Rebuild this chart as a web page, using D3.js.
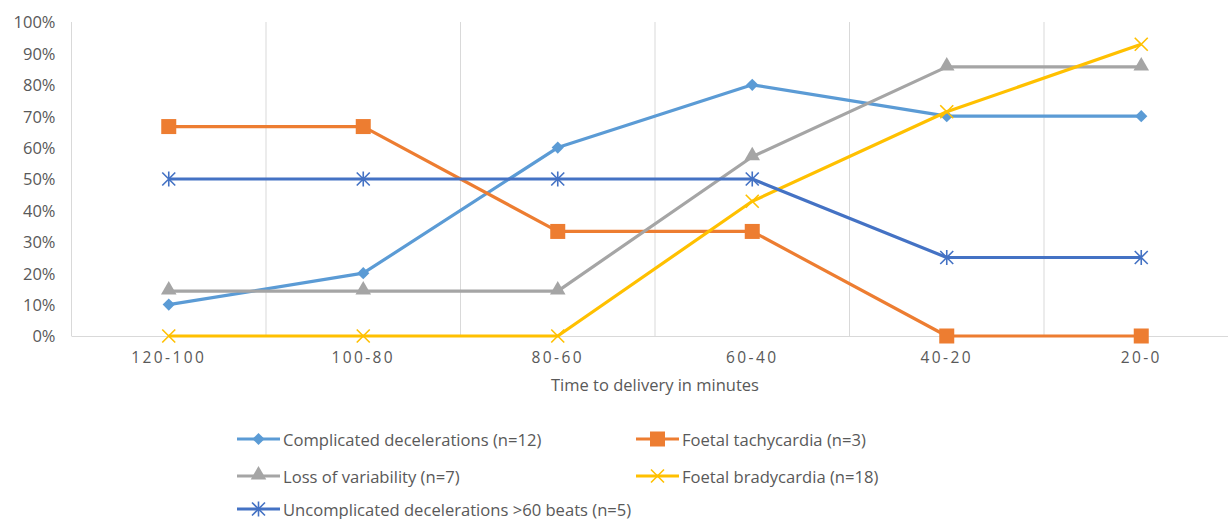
<!DOCTYPE html>
<html>
<head>
<meta charset="utf-8">
<script src="https://cdn.jsdelivr.net/npm/d3@7"></script>
<style>
  html, body { margin: 0; padding: 0; background: #fff; }
  svg { display: block; }
  text { font-family: "Open Sans", "Liberation Sans", sans-serif; fill: #595959; }
</style>
</head>
<body>
<svg id="chart" width="1228" height="519"></svg>
<script>
// Time windows before delivery (minutes)
const categories = ["120-100", "100-80", "80-60", "60-40", "40-20", "20-0"];

// Share of cases (%) showing each CTG feature per window
const complicatedDecels   = [10, 20, 60, 80, 70, 70];
const foetalTachycardia   = [66.7, 66.7, 33.3, 33.3, 0, 0];
const lossOfVariability   = [14.3, 14.3, 14.3, 57.1, 85.7, 85.7];
const foetalBradycardia   = [0, 0, 0, 42.9, 71.4, 92.9];
const uncomplicatedDecels = [50, 50, 50, 50, 25, 25];

const yTicks = [0, 10, 20, 30, 40, 50, 60, 70, 80, 90, 100];

const series = [
  { name: "Complicated decelerations (n=12)", values: complicatedDecels, color: "#5B9BD5", marker: "diamond" },
  { name: "Foetal tachycardia (n=3)", values: foetalTachycardia, color: "#ED7D31", marker: "square" },
  { name: "Loss of variability (n=7)", values: lossOfVariability, color: "#A5A5A5", marker: "triangle" },
  { name: "Foetal bradycardia (n=18)", values: foetalBradycardia, color: "#FFC000", marker: "x" },
  { name: "Uncomplicated decelerations >60 beats (n=5)", values: uncomplicatedDecels, color: "#4472C4", marker: "star" }
];

const svg = d3.select("#chart");
const plot = { left: 71.5, right: 1238.5, top: 22, bottom: 336 };

const x = d3.scaleBand().domain(categories).range([plot.left, plot.right]);
const y = d3.scaleLinear().domain([0, 100]).range([plot.bottom, plot.top]);

// vertical gridlines at category boundaries
svg.append("g")
  .selectAll("line")
  .data(categories.slice(1))
  .join("line")
  .attr("x1", d => x(d)).attr("x2", d => x(d))
  .attr("y1", plot.top).attr("y2", plot.bottom)
  .attr("stroke", "#D9D9D9").attr("stroke-width", 1);

svg.append("line")
  .attr("x1", plot.left).attr("x2", plot.left)
  .attr("y1", plot.top).attr("y2", plot.bottom)
  .attr("stroke", "#D9D9D9");

// horizontal category axis
svg.append("line")
  .attr("x1", plot.left).attr("x2", plot.right)
  .attr("y1", plot.bottom + 0.5).attr("y2", plot.bottom + 0.5)
  .attr("stroke", "#D9D9D9").attr("stroke-width", 1.2);

// y axis labels
const yAxis = d3.axisLeft(y).tickValues(yTicks).tickFormat(d => d + "%").tickSize(0).tickPadding(0);
const gy = svg.append("g").attr("transform", `translate(${plot.left - 16},0)`).call(yAxis);
gy.select(".domain").remove();
gy.selectAll("text")
  .attr("font-size", 16.5)
  .attr("font-family", '"Open Sans", sans-serif')
  .attr("fill", "#595959")
  .attr("dy", "0.36em");

// x axis labels
const xAxis = d3.axisBottom(x).tickSize(0).tickPadding(0);
const gx = svg.append("g").attr("transform", `translate(0,${plot.bottom + 21})`).call(xAxis);
gx.select(".domain").remove();
gx.selectAll("text")
  .attr("font-size", 15.5)
  .attr("letter-spacing", "2.4px")
  .attr("font-family", '"Open Sans", sans-serif')
  .attr("fill", "#595959")
  .attr("dy", "0.36em");

svg.append("text")
  .attr("x", 655).attr("y", 384)
  .attr("text-anchor", "middle").attr("dominant-baseline", "central")
  .attr("font-size", 16.5)
  .text("Time to delivery in minutes");

// marker shapes
function drawMarker(g, type, color, cx, cy) {
  if (type === "diamond") {
    g.append("path").attr("d", d3.symbol(d3.symbolDiamond2, 95)())
      .attr("transform", `translate(${cx},${cy})`).attr("fill", color);
  } else if (type === "square") {
    g.append("rect").attr("x", cx - 7.5).attr("y", cy - 7.5).attr("width", 15).attr("height", 15).attr("fill", color);
  } else if (type === "triangle") {
    g.append("path").attr("d", d3.symbol(d3.symbolTriangle, 105)())
      .attr("transform", `translate(${cx},${cy - 1})`).attr("fill", color);
  } else if (type === "x") {
    const s = 6.5;
    g.append("path").attr("d", `M${cx - s},${cy - s}L${cx + s},${cy + s}M${cx - s},${cy + s}L${cx + s},${cy - s}`)
      .attr("stroke", color).attr("stroke-width", 1.6).attr("fill", "none");
  } else if (type === "star") {
    const s = 6.5;
    g.append("path").attr("d", `M${cx - s},${cy - s}L${cx + s},${cy + s}M${cx - s},${cy + s}L${cx + s},${cy - s}M${cx},${cy - s - 1}L${cx},${cy + s + 1}`)
      .attr("stroke", color).attr("stroke-width", 1.6).attr("fill", "none");
  }
}

const line = d3.line()
  .x((d, i) => x(categories[i]) + x.bandwidth() / 2)
  .y(d => y(d));

series.forEach(s => {
  const g = svg.append("g");
  g.append("path").datum(s.values)
    .attr("d", line).attr("fill", "none")
    .attr("stroke", s.color).attr("stroke-width", 3.2)
    .attr("stroke-linejoin", "round");
  s.values.forEach((v, i) => drawMarker(g, s.marker, s.color, x(categories[i]) + x.bandwidth() / 2, y(v)));
});

// legend
const legendPos = [
  { x: 237, y: 439 }, { x: 636, y: 439 },
  { x: 237, y: 476 }, { x: 636, y: 476 },
  { x: 237, y: 509 }
];
series.forEach((s, i) => {
  const p = legendPos[i];
  const g = svg.append("g");
  g.append("line").attr("x1", p.x).attr("x2", p.x + 43).attr("y1", p.y).attr("y2", p.y)
    .attr("stroke", s.color).attr("stroke-width", 3.2);
  drawMarker(g, s.marker, s.color, p.x + 21.5, p.y);
  g.append("text").attr("x", p.x + 46).attr("y", p.y)
    .attr("dominant-baseline", "central")
    .attr("font-size", 16.6)
    .text(s.name);
});
</script>
</body>
</html>
